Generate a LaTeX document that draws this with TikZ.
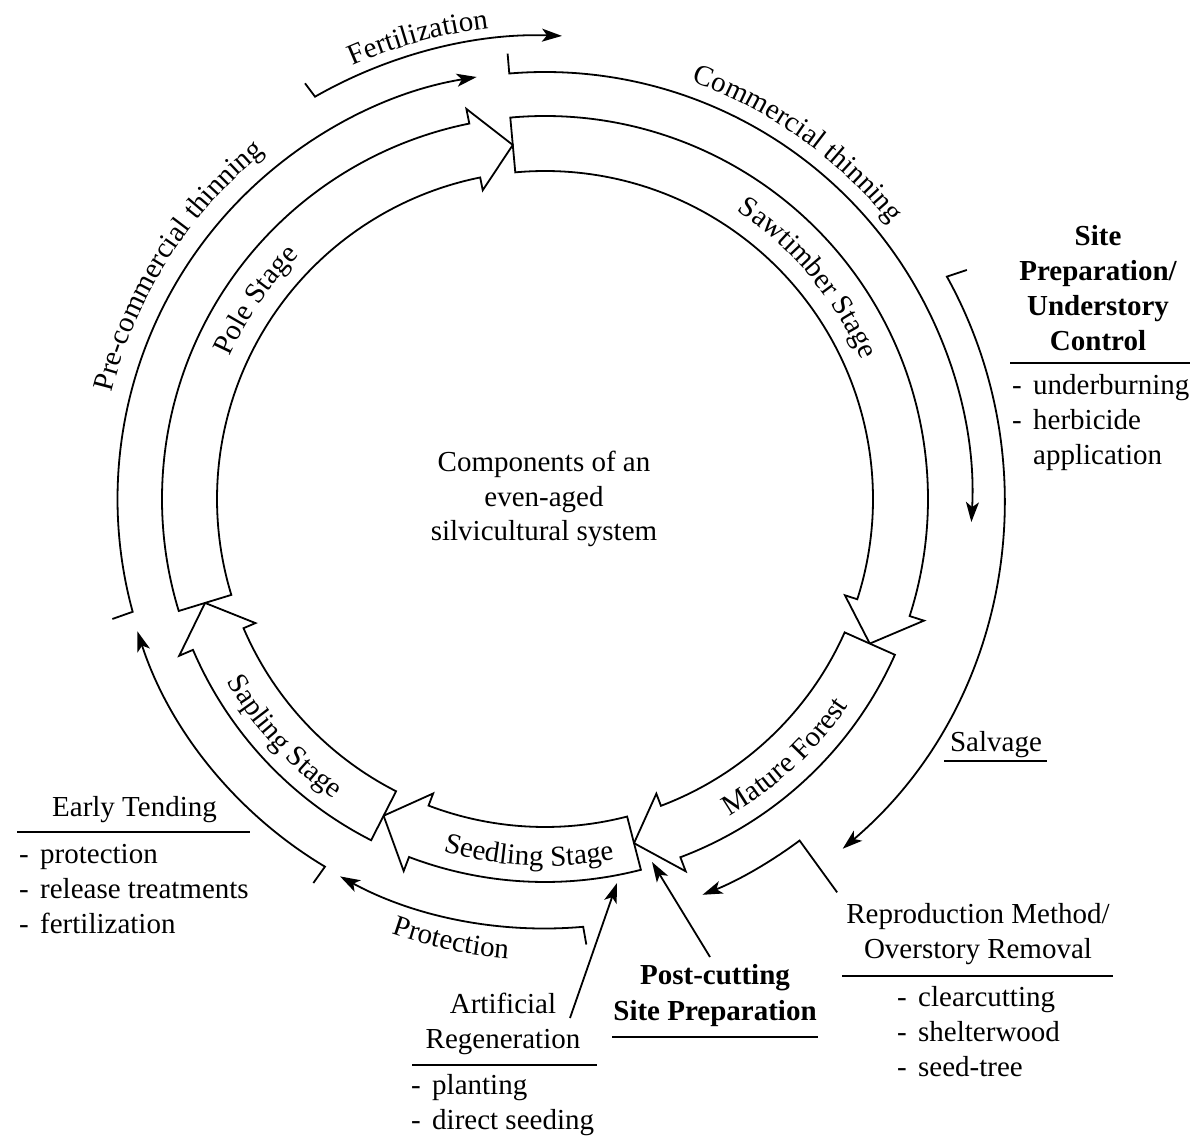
\documentclass[tikz,border=0pt]{standalone}
\usepackage{fontspec}
\setmainfont{Liberation Serif}
\usetikzlibrary{arrows.meta,decorations.text}
\newcommand\lblfont{\fontsize{29}{34.5}\selectfont}
\newcommand\dashitem[1]{\makebox[21pt][l]{-}#1}
\newcommand\noitem[1]{\makebox[21pt][l]{}#1}
\newcommand\stagearrow[2]{%
  \draw[stagebox] (#1:328) -- (#1:383)
    arc[start angle=#1, end angle=#2+6.2, radius=383]
    -- (#2+6.2:398) -- (#2:355.5) -- (#2+6.2:315) -- (#2+6.2:328)
    arc[start angle=#2+6.2, end angle=#1, radius=328] -- cycle;}
\newcommand\curvelabel[4]{%
  \path[decorate, decoration={text along path, text align=center,
    text={|\lblfont|#4}}] (#1:#3) arc[start angle=#1, end angle=#2, radius=#3];}
\begin{document}
\begin{tikzpicture}[x=1pt, y=1pt,
  stagebox/.style={line width=1.8pt, line join=miter, fill=white, draw=black},
  flow/.style={line width=1.8pt, -{Stealth[length=20pt,width=13pt,inset=5pt]}},
  plainline/.style={line width=1.8pt},
  lbl/.style={font=\lblfont, inner sep=0pt, anchor=base},
  lblb/.style={font=\lblfont\bfseries, inner sep=0pt, anchor=base},
  item/.style={font=\lblfont, inner sep=0pt, anchor=base west},
  rule/.style={line width=1.8pt}]
\useasboundingbox (0,0) rectangle (1198,1138);
\fill[white] (0,0) rectangle (1198,1138);
\coordinate (C) at (545,639);
\begin{scope}[shift={(C)}]
  % stage band
  \stagearrow{95.2}{-24}
  \stagearrow{-24}{-75.5}
  \stagearrow{-75.5}{-117}
  \stagearrow{-117}{-163}
  \stagearrow{197}{95.2}
  % stage labels
  \curvelabel{80}{0}{346}{Sawtimber Stage}
  \curvelabel{185.5}{105.5}{346}{Pole Stage}
  \curvelabel{-87}{-7}{367}{Mature Forest}
  \curvelabel{-132.6}{-52.6}{367}{Seedling Stage}
  \curvelabel{-177.6}{-97.6}{367}{Sapling Stage}
  % treatment labels
  \curvelabel{94.6}{14.6}{442}{Commercial thinning}
  \curvelabel{187.6}{107.6}{446}{Pre-commercial thinning}
  \curvelabel{135.4}{75.4}{474}{Fertilization}
  \curvelabel{-132}{-72}{461}{Protection}
  % fertilization
  \coordinate (fe0) at (120:480);
  \coordinate (fe1) at (119.75:463.4);
  \draw[flow] (fe0) -- (fe1) arc[start angle=119.75, end angle=87.9, radius=463.4];
  % commercial thinning
  \coordinate (ct0) at (94.8:447);
  \coordinate (ct1) at (94.8:427);
  \draw[flow] (ct0) -- (ct1) arc[start angle=94.8, end angle=-3.1, radius=427];
  % pre-commercial thinning
  \coordinate (pt0) at (195.5:449);
  \coordinate (pt1) at (195.3:427.5);
  \draw[flow] (pt0) -- (pt1) arc[start angle=195.3, end angle=99.2, radius=427.5];
  % salvage
  \coordinate (sv0) at (28.5:480);
  \coordinate (sv1) at (28.96:459.3);
  \draw[flow] (sv0) -- (sv1) arc[start angle=28.96, end angle=-49.6, radius=459.3];
  % reproduction method
  \coordinate (rp0) at (-53.4:490);
  \coordinate (rp1) at (-53.3:426);
  \draw[flow] (rp0) -- (rp1) arc[start angle=-53.3, end angle=-68.3, radius=426];
  % protection
  \coordinate (pr0) at (-84.7:447.5);
  \coordinate (pr1) at (-84.9:429.5);
  \draw[flow] (pr0) -- (pr1) arc[start angle=-84.9, end angle=-118.5, radius=429.5];
  % early tending
  \coordinate (et0c) at (-121.1:448.5);
  \coordinate (et1c) at (-120.9:428.5);
  \draw[flow] (et0c) -- (et1c) arc[start angle=-120.9, end angle=-162, radius=428.5];
\end{scope}

% straight arrows
\coordinate (pcA) at (710,181);
\coordinate (pcB) at (652,276);
\draw[flow] (pcA) -- (pcB);
\coordinate (arA) at (570,120);
\coordinate (arB) at (617,255);
\draw[flow] (arA) -- (arB);

% centre text
\node[lbl] (cx1) at (544,666) {Components of an};
\node[lbl] (cx2) at (544,631.5) {even-aged};
\node[lbl] (cx3) at (544,597) {silvicultural system};

% site preparation / understory control
\node[lblb] (sp1) at (1098,892) {Site};
\node[lblb] (sp2) at (1098,857) {Preparation/};
\node[lblb] (sp3) at (1098,822) {Understory};
\node[lblb] (sp4) at (1098,787) {Control};
\draw[rule] (1010,775) -- (1190,775);
\node[item] (sp5) at (1012,743) {\dashitem{underburning}};
\node[item] (sp6) at (1012,708) {\dashitem{herbicide}};
\node[item] (sp7) at (1012,673) {\noitem{application}};

% salvage
\node[lbl] (sal) at (996,386) {Salvage};
\draw[rule] (944,377) -- (1047,377);

% reproduction method
\node[lbl] (rm1) at (978,215) {Reproduction Method/};
\node[lbl] (rm2) at (978,180) {Overstory Removal};
\draw[rule] (842,162) -- (1113,162);
\node[item] (rm3) at (897,131.3) {\dashitem{clearcutting}};
\node[item] (rm4) at (897,96.3) {\dashitem{shelterwood}};
\node[item] (rm5) at (897,61.3) {\dashitem{seed-tree}};

% post-cutting site preparation
\node[lblb] (pc1) at (715,154) {Post-cutting};
\node[lblb] (pc2) at (715,118) {Site Preparation};
\draw[rule] (612,101) -- (818,101);

% artificial regeneration
\node[lbl] (ar1) at (503,125) {Artificial};
\node[lbl] (ar2) at (503,90) {Regeneration};
\draw[rule] (412,73) -- (597,73);
\node[item] (ar3) at (411,43.5) {\dashitem{planting}};
\node[item] (ar4) at (411,8.5) {\dashitem{direct seeding}};

% early tending
\node[lbl] (et0) at (134.5,321.3) {Early Tending};
\draw[rule] (17,306.3) -- (250,306.3);
\node[item] (et1) at (19,275) {\dashitem{protection}};
\node[item] (et2) at (19,240) {\dashitem{release treatments}};
\node[item] (et3) at (19,205) {\dashitem{fertilization}};
\end{tikzpicture}
\end{document}
